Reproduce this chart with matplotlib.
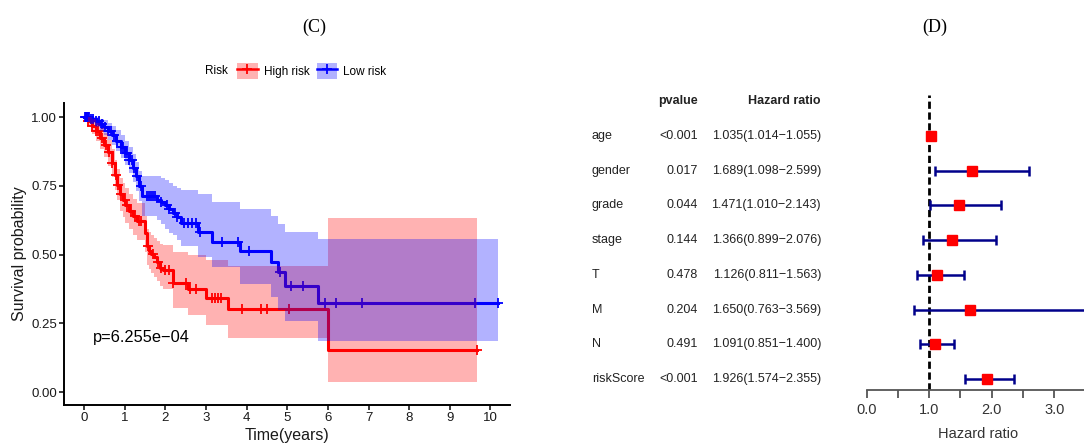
import numpy as np
import matplotlib
matplotlib.use("Agg")
import matplotlib.pyplot as plt
from matplotlib.lines import Line2D
from matplotlib.patches import Patch
from matplotlib.transforms import blended_transform_factory

plt.rcParams['font.family'] = ['Liberation Sans', 'DejaVu Sans']

# ---- panel C: Kaplan-Meier by risk group ----
risk_labels = ['High risk', 'Low risk']

high_t = [0.00, 0.10, 0.20, 0.30, 0.40, 0.50, 0.60, 0.70, 0.76, 0.82,
          0.88, 0.95, 1.02, 1.10, 1.20, 1.30, 1.50, 1.54, 1.60, 1.66,
          1.73, 1.79, 1.87, 1.95, 2.18, 2.57, 3.00, 3.55, 6.01, 9.67]
high_s = [1.000, 0.985, 0.968, 0.950, 0.925, 0.900, 0.872, 0.835, 0.790, 0.755,
          0.720, 0.700, 0.680, 0.658, 0.640, 0.622, 0.578, 0.530, 0.515, 0.503,
          0.490, 0.475, 0.452, 0.444, 0.398, 0.375, 0.343, 0.302, 0.153, 0.153]
high_up = [1.000, 1.000, 0.993, 0.980, 0.962, 0.942, 0.918, 0.885, 0.845, 0.812,
           0.780, 0.762, 0.742, 0.720, 0.703, 0.688, 0.640, 0.595, 0.582, 0.572,
           0.560, 0.548, 0.540, 0.535, 0.510, 0.500, 0.480, 0.460, 0.635, 0.635]
high_lo = [1.000, 0.965, 0.940, 0.915, 0.885, 0.855, 0.822, 0.782, 0.735, 0.698,
           0.660, 0.638, 0.615, 0.592, 0.573, 0.555, 0.510, 0.462, 0.447, 0.435,
           0.420, 0.405, 0.385, 0.375, 0.305, 0.280, 0.245, 0.195, 0.036, 0.036]
high_censor = [0.05, 0.10, 0.20, 0.30, 0.35, 0.45, 0.55, 0.62, 0.70, 0.78, 0.85,
               0.92, 1.00, 1.05, 1.15, 1.25, 1.35, 1.40, 1.58, 1.70, 1.82, 1.90,
               2.00, 2.10, 2.20, 2.50, 2.60, 2.75, 3.15, 3.22, 3.30, 3.38, 3.90,
               4.35, 4.50, 5.05, 9.67]

low_t = [0.00, 0.15, 0.30, 0.40, 0.50, 0.60, 0.70, 0.80, 0.90, 1.00,
         1.10, 1.20, 1.28, 1.36, 1.44, 1.80, 1.90, 2.00, 2.10, 2.20,
         2.30, 2.40, 2.81, 3.14, 3.84, 4.61, 4.78, 4.94, 5.76, 10.19]
low_s = [1.000, 0.993, 0.985, 0.975, 0.965, 0.950, 0.935, 0.915, 0.893, 0.870,
         0.845, 0.815, 0.785, 0.750, 0.712, 0.700, 0.690, 0.680, 0.665, 0.652,
         0.638, 0.614, 0.584, 0.547, 0.513, 0.475, 0.438, 0.386, 0.324, 0.324]
low_up = [1.000, 1.000, 1.000, 0.995, 0.990, 0.980, 0.968, 0.952, 0.935, 0.915,
          0.893, 0.866, 0.838, 0.805, 0.788, 0.786, 0.778, 0.770, 0.760, 0.750,
          0.742, 0.735, 0.722, 0.690, 0.665, 0.640, 0.610, 0.582, 0.556, 0.556]
low_lo = [1.000, 0.980, 0.965, 0.950, 0.935, 0.918, 0.900, 0.878, 0.852, 0.825,
          0.797, 0.765, 0.733, 0.695, 0.640, 0.628, 0.610, 0.595, 0.580, 0.570,
          0.555, 0.530, 0.490, 0.455, 0.395, 0.346, 0.300, 0.257, 0.187, 0.187]
low_censor = [0.02, 0.05, 0.08, 0.10, 0.13, 0.18, 0.22, 0.30, 0.36, 0.45, 0.52,
              0.60, 0.66, 0.75, 0.82, 0.90, 0.95, 1.02, 1.06, 1.12, 1.18, 1.22,
              1.30, 1.40, 1.55, 1.60, 1.65, 1.70, 1.75, 1.90, 2.05, 2.10, 2.25,
              2.30, 2.45, 2.55, 2.65, 2.75, 2.85, 3.40, 3.80, 4.05, 4.82, 5.10,
              5.38, 5.93, 6.20, 6.83, 9.63, 10.19]

km_pvalue = 'p=6.255e\u221204'

# ---- panel D: forest plot ----
variables = ['age', 'gender', 'grade', 'stage', 'T', 'M', 'N', 'riskScore']
pvals = ['<0.001', '0.017', '0.044', '0.144', '0.478', '0.204', '0.491', '<0.001']
hr = [1.035, 1.689, 1.471, 1.366, 1.126, 1.650, 1.091, 1.926]
hr_low = [1.014, 1.098, 1.010, 0.899, 0.811, 0.763, 0.851, 1.574]
hr_high = [1.055, 2.599, 2.143, 2.076, 1.563, 3.569, 1.400, 2.355]

RED = '#FF0000'
BLUE = '#0000FF'
NAVY = '#00008B'

W, H = 1084, 448
fig = plt.figure(figsize=(W / 100, H / 100), dpi=100)


def px_axes(x0, y0, x1, y1):
    # axes placed by pixel box (left, top, right, bottom)
    return fig.add_axes([x0 / W, 1 - y1 / H, (x1 - x0) / W, (y1 - y0) / H])


def step_at(t, s, x):
    idx = np.searchsorted(t, x, side='right') - 1
    return np.asarray(s)[idx]


# ---------------- survival curves ----------------
ax = px_axes(64, 103, 510, 405)

groups = [(high_t, high_s, high_up, high_lo, high_censor, RED),
          (low_t, low_s, low_up, low_lo, low_censor, BLUE)]
for t, s, up, lo, cens, col in groups:
    ax.step(t, s, where='post', color=col, lw=2.2, zorder=2)
    ax.plot(cens, step_at(t, s, cens), ls='none', marker='+', ms=7, mew=1.3,
            color=col, zorder=2)
for t, s, up, lo, cens, col in groups:
    ax.fill_between(t, lo, up, step='post', color=col, alpha=0.3, lw=0, zorder=3)

ax.set_xlim(-0.49, 10.48)
ax.set_ylim(-0.047, 1.052)
ax.set_xticks(range(0, 11))
ax.set_yticks([0, 0.25, 0.5, 0.75, 1.0])
ax.set_yticklabels(['0.00', '0.25', '0.50', '0.75', '1.00'])
for side in ['top', 'right']:
    ax.spines[side].set_visible(False)
for side in ['left', 'bottom']:
    ax.spines[side].set_linewidth(1.4)
ax.tick_params(direction='out', length=3.5, width=1.2, labelsize=9.5, pad=1.5,
               colors='#1a1a1a')
ax.set_xlabel('Time(years)', fontsize=11.5, color='#1a1a1a')
ax.xaxis.set_label_coords(0.5, -0.075)
ax.set_ylabel('Survival probability', fontsize=11.5, color='#1a1a1a')
ax.yaxis.set_label_coords(-0.083, 0.5)
ax.text(0.21, 0.20, km_pvalue, fontsize=11.8, ha='left', va='center')

handles = [(Patch(facecolor=RED, alpha=0.3, edgecolor='none'),
            Line2D([], [], color=RED, lw=1.8, marker='+', ms=7, mew=1.3)),
           (Patch(facecolor=BLUE, alpha=0.3, edgecolor='none'),
            Line2D([], [], color=BLUE, lw=1.8, marker='+', ms=7, mew=1.3))]
fig.legend(handles, risk_labels, loc='center', bbox_to_anchor=(312 / W, 1 - 70.7 / H),
           ncol=2, frameon=False, fontsize=8.5, handlelength=1.7, handleheight=1.7,
           handletextpad=0.55, columnspacing=0.6, borderpad=0, borderaxespad=0)
fig.text(205 / W, 1 - 70.7 / H, 'Risk', ha='left', va='center', fontsize=8.5)

serif = ['Liberation Serif', 'DejaVu Serif']
fig.text(314 / W, 1 - 27 / H, '(C)', ha='center', va='center', fontsize=13,
         family=serif)
fig.text(935 / W, 1 - 27 / H, '(D)', ha='center', va='center', fontsize=13,
         family=serif)

# ---------------- forest plot ----------------
ax2 = px_axes(866.7, 95, 1116.7, 390)
ypos = np.arange(len(variables), 0, -1)
hr_a = np.array(hr)
xerr = [hr_a - np.array(hr_low), np.array(hr_high) - hr_a]

ax2.axvline(1, color='black', lw=2, ls=(0, (2.6, 1.3)), zorder=1)
ax2.errorbar(hr, ypos, xerr=xerr, fmt='none', ecolor=NAVY, elinewidth=1.8,
             capsize=3.6, capthick=1.8, zorder=2)
ax2.plot(hr, ypos, 's', color=RED, ms=6.7, zorder=3)

ax2.set_xlim(0, 4)
ax2.set_ylim(0.683, 9.181)
ax2.set_yticks([])
for side in ['top', 'right', 'left']:
    ax2.spines[side].set_visible(False)
ax2.spines['bottom'].set_color('#555555')
ax2.spines['bottom'].set_linewidth(1.3)
ax2.set_xticks([0, 1, 2, 3])
ax2.set_xticklabels(['0.0', '1.0', '2.0', '3.0'])
ax2.set_xticks([0.5, 1.5, 2.5, 3.5], minor=True)
ax2.tick_params(which='both', direction='out', length=6, width=1.3,
                colors='#555555', labelsize=10.5, labelcolor='#333333', pad=3)
ax2.set_xlabel('Hazard ratio', fontsize=10.5, color='#333333')
ax2.xaxis.set_label_coords(0.445, -0.125)

trans = blended_transform_factory(fig.transFigure, ax2.transData)
head_y = 9.02
ax2.text(698 / W, head_y, 'pvalue', transform=trans, ha='right', va='center',
         fontsize=9, fontweight='bold', color='#222222', clip_on=False)
ax2.text(821 / W, head_y, 'Hazard ratio', transform=trans, ha='right', va='center',
         fontsize=9, fontweight='bold', color='#222222', clip_on=False)
for name, p, h, lo, hi, y in zip(variables, pvals, hr, hr_low, hr_high, ypos):
    ax2.text(592 / W, y, name, transform=trans, ha='left', va='center',
             fontsize=9, color='#222222', clip_on=False)
    ax2.text(698 / W, y, p, transform=trans, ha='right', va='center',
             fontsize=9, color='#222222', clip_on=False)
    ax2.text(821 / W, y, f'{h:.3f}({lo:.3f}\u2212{hi:.3f})', transform=trans,
             ha='right', va='center', fontsize=9, color='#222222', clip_on=False)

fig.savefig('out.png', dpi=100)
